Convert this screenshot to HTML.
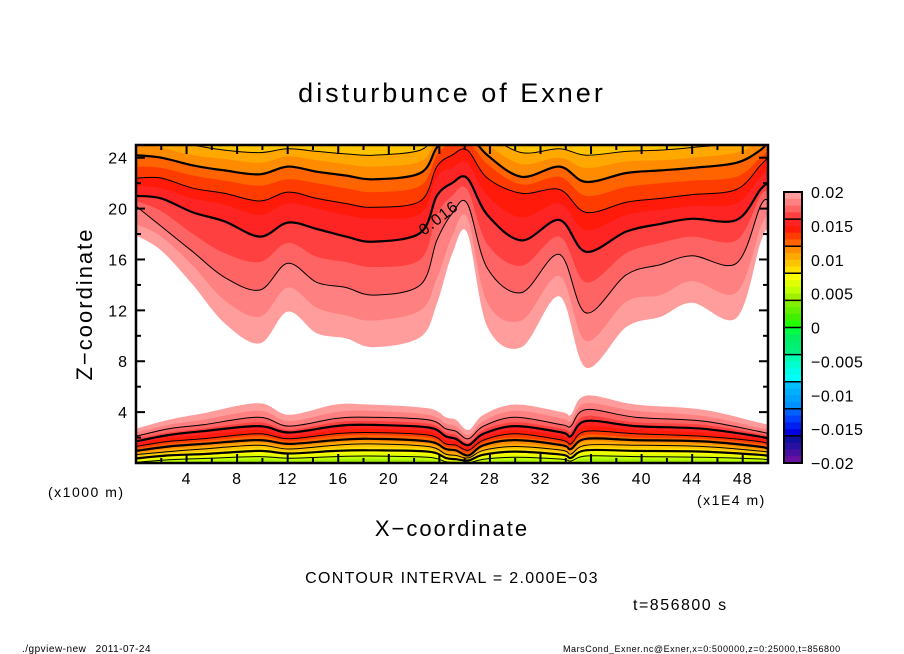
<!DOCTYPE html>
<html><head><meta charset="utf-8"><style>
body{margin:0;background:#fff;width:904px;height:654px;overflow:hidden;font-family:"Liberation Sans",sans-serif}
svg{display:block}
text{font-family:"Liberation Sans",sans-serif;fill:#000}
</style></head><body>
<svg id="chart" width="904" height="654" viewBox="0 0 904 654" xmlns="http://www.w3.org/2000/svg">
<defs><clipPath id="pc"><rect x="136" y="145" width="632" height="318"/></clipPath></defs>
<text x="452" y="102" font-size="27" text-anchor="middle" letter-spacing="3">disturbunce of Exner</text>
<g id="plot" clip-path="url(#pc)"></g>
<g id="axes"></g>
<g id="cbar"></g>
<text transform="translate(92,304) rotate(-90)" font-size="22" text-anchor="middle" letter-spacing="2">Z−coordinate</text>
<text x="452" y="536" font-size="22" text-anchor="middle" letter-spacing="2">X−coordinate</text>
<text x="48" y="497" font-size="14" letter-spacing="1.5">(x1000 m)</text>
<text x="697" y="505" font-size="14" letter-spacing="1.5">(x1E4 m)</text>
<text x="452" y="583" font-size="16" text-anchor="middle" letter-spacing="1.3">CONTOUR INTERVAL = 2.000E−03</text>
<text x="633" y="610" font-size="16" letter-spacing="1.5">t=856800 s</text>
<text x="22" y="652" font-size="10" letter-spacing="0.5" word-spacing="6">./gpview-new  2011-07-24</text>
<text x="563" y="652" font-size="9" letter-spacing="0.55">MarsCond_Exner.nc@Exner,x=0:500000,z=0:25000,t=856800</text>
</svg>
<script>
const XU=[0,2,4.5,7,9.8,12,14.3,16.6,18.8,22.5,23.8,25,26.2,27.8,30.5,33.5,35.6,38.8,41.5,44,47.5,49.4,50];
const up020=[17.9,16.7,14,11,9.4,11.9,10.2,9.8,9.1,9.9,12.5,16.4,18.1,10.7,9.1,13.1,7.5,10.7,11.5,12.6,11.4,17.3,18.5];
const up019=[18.8,17.8,15.5,12.8,11.5,13.8,12.2,11.6,11.2,12,14.5,17.8,19.3,12.6,11.2,14.7,9.6,12.7,13.2,14.3,13.4,18.5,19.5];
const up018=[20.2,18.6,16.6,14.6,13.6,15.7,14.2,13.8,13.2,14,17.5,19.6,20.4,15.3,13.4,16.4,11.8,14.8,15.6,16.3,15.7,20.2,20.7];
const up017=[20.6,19.8,18,16.5,15.8,17.3,16.2,15.8,15.4,16,19.5,21,21.5,17.2,15.5,17.8,14.2,16.5,17.3,17.8,17.5,21,21.3];
const up016=[21,20.8,19.7,19,17.8,18.9,18.4,17.8,17.4,18.1,21,22,22.4,19.5,17.5,19.1,16.6,18.2,18.8,19.2,19.1,21.5,22];
const up015=[21.8,21.6,20.8,20.3,19.5,20.4,20,19.5,19.2,19.6,22.5,23.2,23.6,21,19.3,20.4,18.3,19.5,19.9,20.2,20.4,22.5,23];
const up014=[22.4,22.4,21.6,21.2,20.6,21.3,20.8,20.4,20.1,20.6,23.3,24.2,24.6,22.4,21.2,21.5,19.7,20.5,20.8,21.1,21.5,23.4,24];
const up013=[23.3,23.2,22.6,22.2,21.8,22.3,22,21.6,21.3,21.8,24.2,25.2,25.4,23.5,21.9,22.5,21,21.7,22,22.2,22.5,24,24.6];
const up012=[24.2,24,23.4,23,22.7,23.3,22.9,22.6,22.3,22.8,24.8,26,26,24.2,22.5,23.3,22.1,22.8,23,23.2,23.6,24.6,25.3];
const up011=[25.2,24.8,24.2,23.9,23.6,24.1,23.8,23.5,23.3,23.7,25.4,26,26,25,23.5,24,23.2,23.7,23.8,24,24.4,25.3,26];
const up010=[26,25.6,25,24.6,24.4,24.7,24.5,24.3,24.2,24.6,26,26.5,26.5,25.8,24.4,24.7,24.2,24.5,24.6,24.8,25.2,26,26.5];
const upperLevels=[20,19,18,17,16,15,14,13,12,11,10];
const upperCurves=[up020,up019,up018,up017,up016,up015,up014,up013,up012,up011,up010];

const XL=[0,2.6,5.3,9.7,12.1,15.8,18.4,23.1,24.5,25.3,26.3,27.5,30,33.7,34.4,35.6,39.5,44.8,49.2,50];
const lo020=[2.7,3.4,3.9,4.7,3.8,4.6,4.6,4.3,3.6,3.4,2.6,3.8,4.6,4.0,3.8,5.3,4.6,4.2,3.2,3.0];
const lo019=[2.4,3.0,3.4,4.1,3.3,4.0,4.1,3.8,3.1,2.9,2.2,3.3,4.1,3.5,3.3,4.7,4.1,3.7,2.8,2.6];
const lo018=[2.1,2.7,3.0,3.6,2.9,3.5,3.6,3.4,2.7,2.5,1.9,2.9,3.6,3.0,2.9,4.2,3.6,3.3,2.5,2.3];
const lo017=[1.9,2.4,2.7,3.2,2.6,3.2,3.3,3.1,2.4,2.2,1.6,2.6,3.2,2.7,2.5,3.7,3.2,3.0,2.3,2.1];
const lo016=[1.7,2.2,2.5,2.9,2.4,2.9,3.0,2.8,2.1,1.9,1.4,2.3,2.9,2.4,2.1,3.3,2.9,2.7,2.1,1.9];
const lo015=[1.5,2.0,2.2,2.6,2.1,2.6,2.7,2.5,1.8,1.7,1.2,2.0,2.6,2.1,1.8,2.9,2.6,2.4,1.9,1.7];
const lo014=[1.3,1.7,1.9,2.3,1.9,2.3,2.4,2.2,1.5,1.4,1.0,1.8,2.3,1.8,1.5,2.5,2.3,2.1,1.7,1.5];
const lo013=[1.1,1.5,1.7,2.1,1.7,2.1,2.2,2.0,1.3,1.2,0.8,1.6,2.0,1.6,1.3,2.2,2.0,1.9,1.5,1.3];
const lo012=[0.95,1.3,1.5,1.8,1.5,1.8,1.9,1.7,1.1,1.0,0.6,1.4,1.8,1.4,1.1,1.9,1.8,1.7,1.3,1.1];
const lo011=[0.8,1.1,1.3,1.6,1.3,1.6,1.7,1.5,0.9,0.8,0.5,1.2,1.5,1.2,0.9,1.7,1.6,1.5,1.1,1.0];
const lo010=[0.65,0.9,1.1,1.4,1.1,1.4,1.5,1.3,0.7,0.6,0.4,1.0,1.3,1.0,0.7,1.4,1.4,1.3,0.95,0.85];
const lo009=[0.5,0.75,0.9,1.15,0.9,1.15,1.25,1.1,0.55,0.45,0.3,0.85,1.1,0.85,0.55,1.2,1.15,1.1,0.8,0.7];
const lo008=[0.35,0.6,0.7,0.95,0.75,0.95,1.0,0.9,0.4,0.3,0.2,0.65,0.9,0.65,0.4,1.0,0.95,0.9,0.65,0.55];
const lo007=[0.2,0.42,0.52,0.72,0.56,0.72,0.78,0.68,0.25,0.2,0.1,0.48,0.68,0.48,0.28,0.78,0.72,0.68,0.5,0.4];
const lo006=[0.05,0.25,0.35,0.5,0.38,0.5,0.55,0.45,0.1,0.05,0,0.3,0.45,0.3,0.15,0.55,0.5,0.45,0.32,0.25];
const lo005=[0,0.08,0.15,0.28,0.18,0.28,0.32,0.22,0,0,0,0.1,0.22,0.12,0,0.32,0.28,0.22,0.12,0.05];
const lowerLevels=[20,19,18,17,16,15,14,13,12,11,10,9,8,7,6,5];
const lowerCurves=[lo020,lo019,lo018,lo017,lo016,lo015,lo014,lo013,lo012,lo011,lo010,lo009,lo008,lo007,lo006,lo005];

const palette=["#ff9c9c","#ff8080","#ff6464","#ff4040","#ff2424","#ff1a0a","#ff3c00","#ff6400",
"#ff8c00","#ffa800","#ffc400","#ffe000","#ffff00","#e0ff00","#c0ff00","#a0f000",
"#80f000","#60f000","#40f000","#20ff00","#00ff40","#00f060","#00f070","#00f080",
"#00ffb0","#00ffd0","#00ffe8","#00ffff","#00c0ff","#00b0ff","#00a0ff","#0090ff",
"#0060ff","#0040ff","#0020f0","#0000e0","#1010a0","#2810a0","#4810a0","#6810a0"];
const cbLabels=["0.02","0.015","0.01","0.005","0","−0.005","−0.01","−0.015","−0.02"];
const cbValues=[0.02,0.015,0.01,0.005,0,-0.005,-0.01,-0.015,-0.02];
const xTicks=[4,8,12,16,20,24,28,32,36,40,44,48];
const zTicks=[4,8,12,16,20,24];

const NS="http://www.w3.org/2000/svg";
const L=136,R=768,T=145,B=463;
const xs=x=>L+x*(R-L)/50;
const zs=z=>B-z*(B-T)/25;
const bandColor=lev=>palette[20-lev];
function mk(tag,attrs,parent){const e=document.createElementNS(NS,tag);for(const k in attrs)e.setAttribute(k,attrs[k]);parent.appendChild(e);return e;}
function smooth(X,Z){
  const p=X.map((x,i)=>[xs(x),zs(Z[i])]);
  let d="M"+p[0][0].toFixed(1)+","+p[0][1].toFixed(1);
  for(let i=0;i<p.length-1;i++){
    const p0=p[Math.max(0,i-1)],p1=p[i],p2=p[i+1],p3=p[Math.min(p.length-1,i+2)];
    const c1=[p1[0]+(p2[0]-p0[0])/6,p1[1]+(p2[1]-p0[1])/6];
    const c2=[p2[0]-(p3[0]-p1[0])/6,p2[1]-(p3[1]-p1[1])/6];
    d+=" C"+c1[0].toFixed(1)+","+c1[1].toFixed(1)+" "+c2[0].toFixed(1)+","+c2[1].toFixed(1)+" "+p2[0].toFixed(1)+","+p2[1].toFixed(1);
  }
  return d;
}
const plot=document.getElementById('plot');
mk('rect',{x:L,y:T,width:R-L,height:B-T,fill:'#fff'},plot);
upperCurves.forEach((c,i)=>{
  const d=smooth(XU,c)+" L"+(R+5)+","+(zs(c[c.length-1]))+" L"+(R+5)+","+(T-20)+" L"+(L-5)+","+(T-20)+" L"+(L-5)+","+zs(c[0])+" Z";
  const e=mk('path',{d:d,fill:bandColor(upperLevels[i])},plot);
  
  
});
lowerCurves.forEach((c,i)=>{
  const d=smooth(XL,c)+" L"+(R+5)+","+zs(c[c.length-1])+" L"+(R+5)+","+(B+20)+" L"+(L-5)+","+(B+20)+" L"+(L-5)+","+zs(c[0])+" Z";
  const e=mk('path',{d:d,fill:bandColor(lowerLevels[i])},plot);
  
  
});
function drawLines(levels,curves,X,prefix){
  curves.forEach((c,i)=>{
    const lv=levels[i];
    if(lv%2!==0||lv===20)return;
    const e=mk('path',{d:smooth(X,c),fill:'none',stroke:'#000','stroke-width':(lv%4===0)?2.2:1},plot);
    
    
  });
}
drawLines(upperLevels,upperCurves,XU,'upper');
drawLines(lowerLevels,lowerCurves,XL,'lower');
const lbl=mk('text',{transform:'translate(424,236) rotate(-38)','font-size':16,'letter-spacing':1},plot);
lbl.textContent='0.016';



const ax=document.getElementById('axes');
for(let x=0;x<=50;x+=2){
  const maj=(x%4===0);const len=maj?9:5;
  mk('line',{x1:xs(x),x2:xs(x),y1:B,y2:B-len,stroke:'#000','stroke-width':2},ax);
  mk('line',{x1:xs(x),x2:xs(x),y1:T,y2:T+len,stroke:'#000','stroke-width':2},ax);
}
xTicks.forEach(v=>{const t=mk('text',{x:xs(v),y:484,'font-size':16,'text-anchor':'middle','letter-spacing':1},ax);t.textContent=v;
  
  });
for(let z=0;z<=25;z+=2){
  const maj=(z%4===0);const len=maj?9:5;
  mk('line',{x1:L,x2:L+len,y1:zs(z),y2:zs(z),stroke:'#000','stroke-width':2},ax);
  mk('line',{x1:R,x2:R-len,y1:zs(z),y2:zs(z),stroke:'#000','stroke-width':2},ax);
}
zTicks.forEach(v=>{const t=mk('text',{x:128,y:zs(v)+6,'font-size':16,'text-anchor':'end','letter-spacing':1},ax);t.textContent=v;
  
  });
mk('rect',{x:L,y:T,width:R-L,height:B-T,fill:'none',stroke:'#000','stroke-width':2.5},ax);

const cb=document.getElementById('cbar');
const cT=192,cB=463,cL=784,cW=18;
const sh=(cB-cT)/palette.length;
palette.forEach((c,i)=>{const r=mk('rect',{x:cL,y:cT+i*sh,width:cW,height:sh+0.5,fill:c},cb);
  
  });
for(let i=4;i<palette.length;i+=4) mk('line',{x1:cL,x2:cL+cW,y1:cT+i*sh,y2:cT+i*sh,stroke:'#000','stroke-width':1.5},cb);
mk('rect',{x:cL,y:cT,width:cW,height:cB-cT,fill:'none',stroke:'#000','stroke-width':2},cb);
cbValues.forEach((v,i)=>{const y=cT+(0.02-v)/0.04*(cB-cT);
  const t=mk('text',{x:811,y:y+6,'font-size':16,'letter-spacing':0.5},cb);t.textContent=cbLabels[i];
  
  });
</script>
</body></html>
